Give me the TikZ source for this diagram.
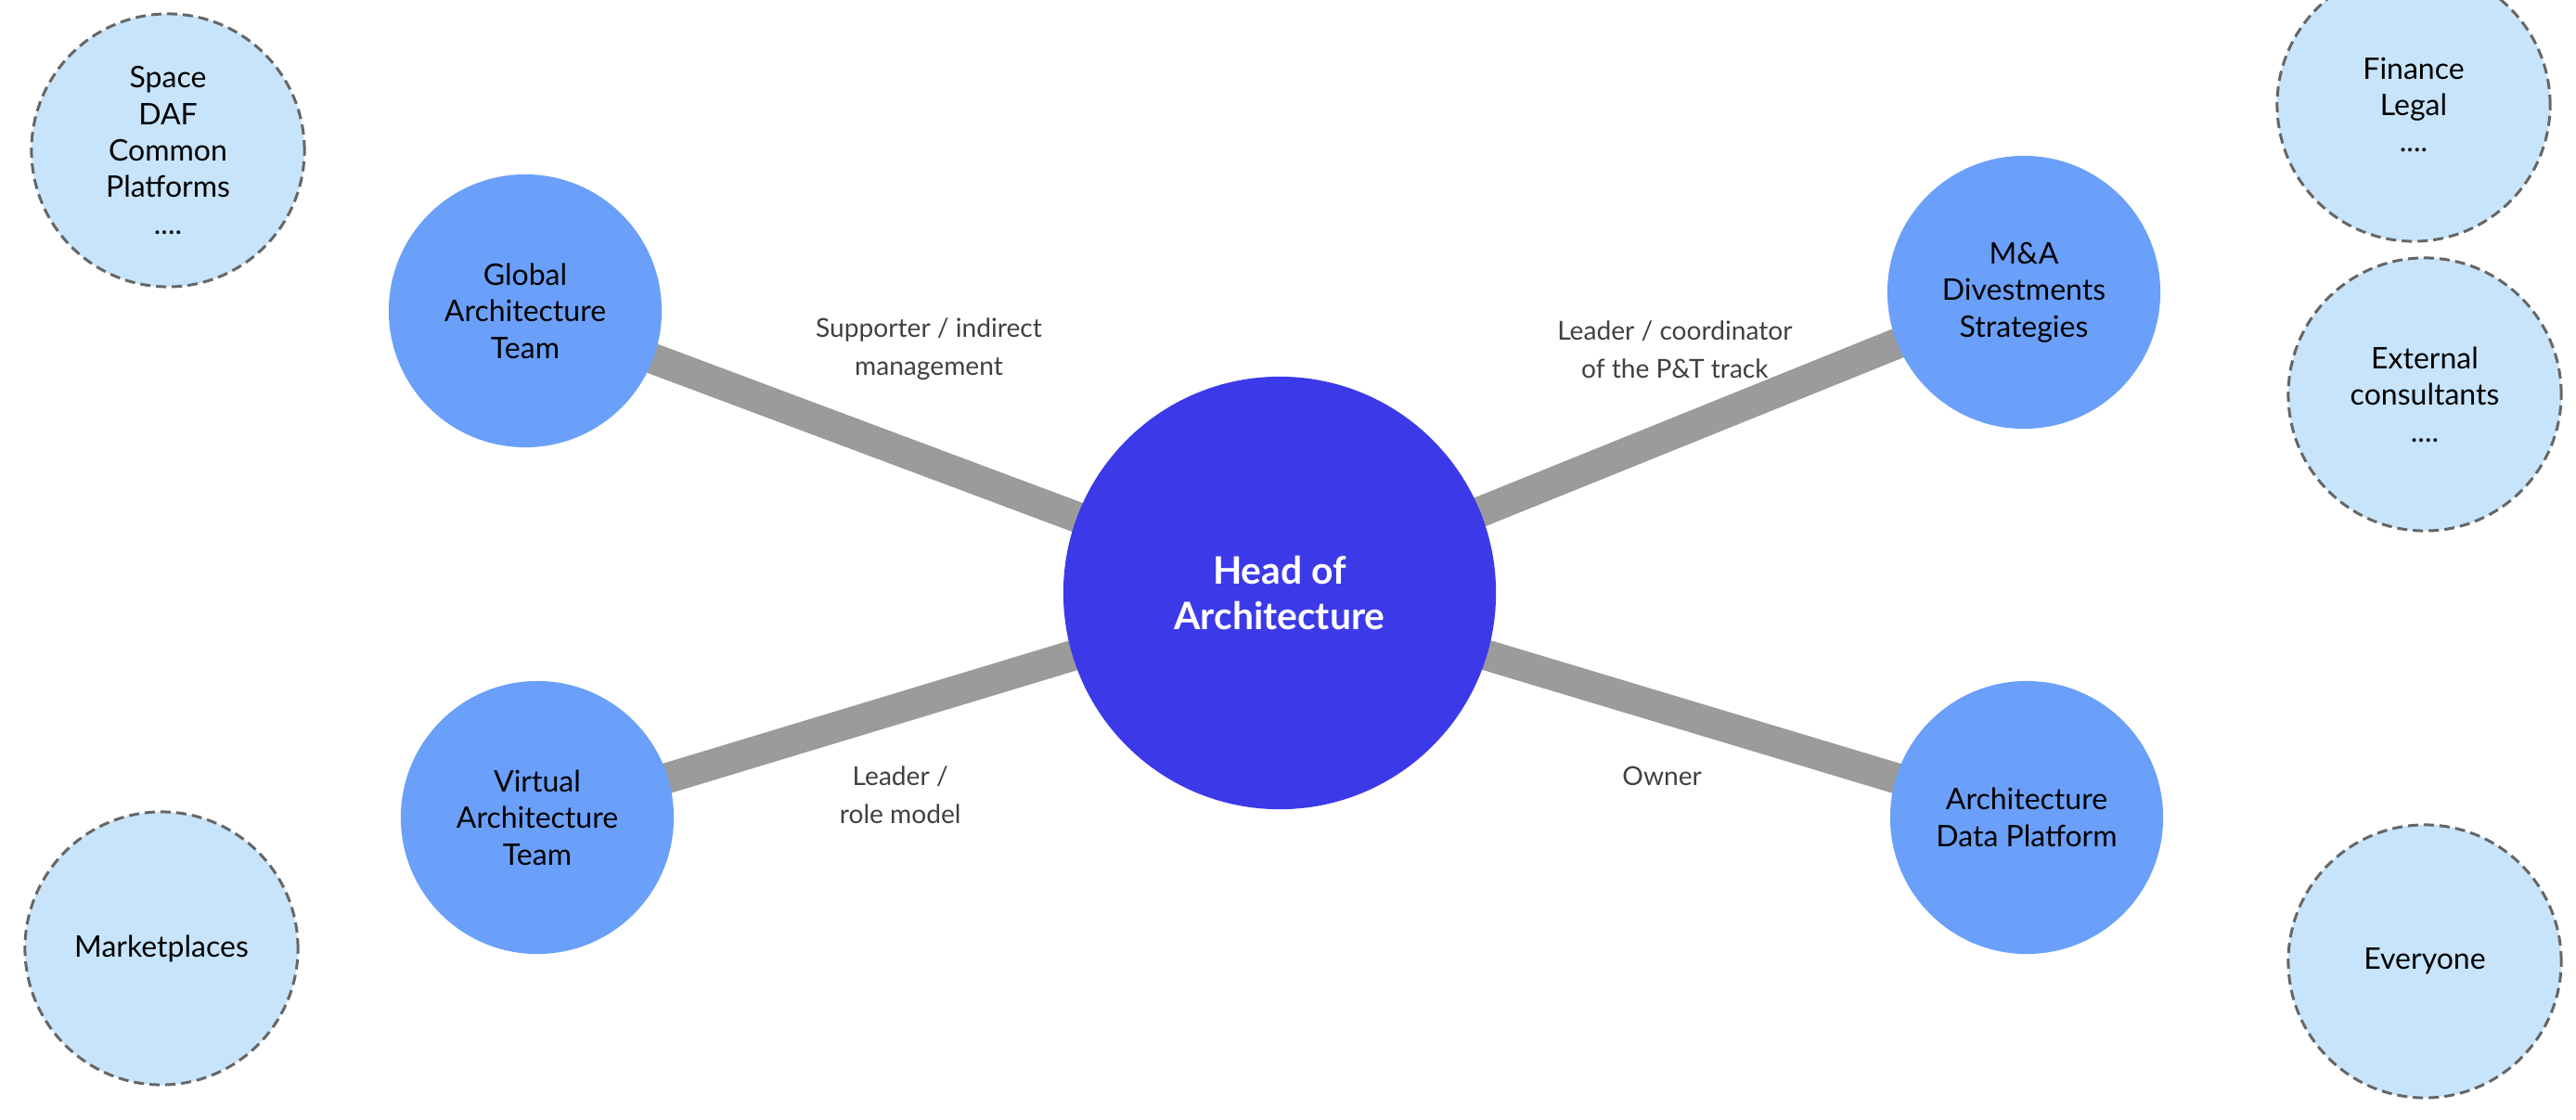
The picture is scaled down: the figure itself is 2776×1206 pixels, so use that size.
\documentclass[tikz,border=0pt]{standalone}
\usepackage{fontspec}
\setmainfont{Lato}
\usetikzlibrary{backgrounds}
\definecolor{headblue}{HTML}{3C3AE8}
\definecolor{teamblue}{HTML}{6AA0F9}
\definecolor{extblue}{HTML}{C7E4FA}
\definecolor{dashgray}{HTML}{666666}
\definecolor{linkgray}{HTML}{9B9B9B}
\definecolor{labelgray}{HTML}{404040}

\begin{document}
\begin{tikzpicture}[x=0.01cm,y=-0.01cm,
        every node/.style={align=center},
        head node/.style={circle,fill=headblue,minimum size=4.66cm,inner sep=0pt,
            text=white,font=\fontsize{11.6}{13.9}\selectfont\bfseries},
        team node/.style={circle,fill=teamblue,minimum size=2.94cm,inner sep=0pt,
            font=\fontsize{9.1}{11.2}\selectfont},
        ext node/.style={circle,fill=extblue,draw=dashgray,line width=0.03cm,
            dash pattern=on 0.11cm off 0.06cm,minimum size=2.94cm,inner sep=0pt,
            font=\fontsize{9.1}{11.2}\selectfont},
        link/.style={draw=linkgray,line width=0.33cm}]

    \useasboundingbox (0,0) rectangle (2776,1206);
    \clip (0,0) rectangle (2776,1206);

    \node[head node] (head) at (1379,639) {Head of\\Architecture};

    \node[team node] (global) at (566,335) {Global\\Architecture\\Team};
    \node[team node] (virtual) at (579,881) {Virtual\\Architecture\\Team};
    \node[team node] (mna) at (2181,315) {M\&A\\Divestments\\Strategies};
    \node[team node] (adp) at (2184,881) {Architecture\\Data Platform};

    \node[ext node] (space) at (181,162) {Space\\DAF\\Common\\Platforms\\....};
    \node[ext node] (market) at (174,1022) {Marketplaces};
    \node[ext node] (finance) at (2601,113) {Finance\\Legal\\....};
    \node[ext node] (external) at (2613,425) {External\\consultants\\....};
    \node[ext node] (everyone) at (2613,1036) {Everyone};

    \begin{scope}[on background layer]
    \path[every node/.style={font=\fontsize{8}{11.6}\selectfont,text=labelgray,align=center}]
    (head.center) edge[link] node[pos=.465,yshift=1.21cm] {Supporter / indirect\\management} (global.center)
    (head.center) edge[link] node[pos=.531,yshift=.9cm] {Leader / coordinator\\of the P\&T track} (mna.center)
    (head.center) edge[link] node[pos=.511,yshift=-.94cm] {Leader /\\role model} (virtual.center)
    (head.center) edge[link] node[pos=.512,yshift=-.73cm] {Owner} (adp.center);
    \end{scope}
\end{tikzpicture}
\end{document}
